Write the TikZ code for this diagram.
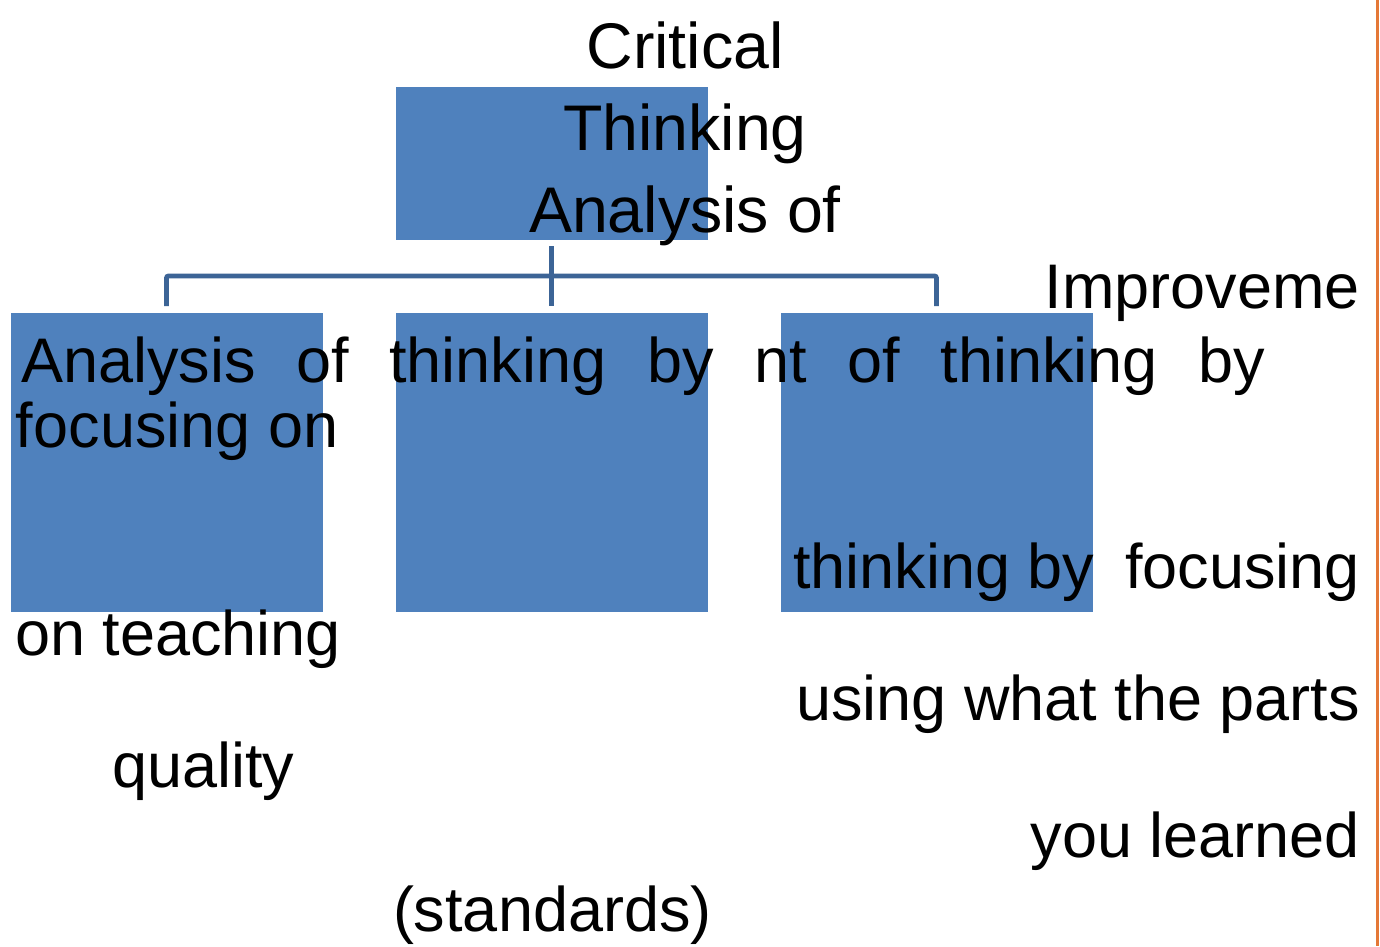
\documentclass[tikz,border=0pt]{standalone}
\usepackage{fontspec}
\setmainfont{Liberation Sans}
\definecolor{boxblue}{HTML}{4F81BD}
\definecolor{connblue}{RGB}{60,100,150}
\definecolor{rulecol}{RGB}{228,120,55}
\begin{document}
\begin{tikzpicture}[x=1pt,y=-1pt,
  blk/.style={fill=boxblue, draw=white, line width=0.6pt, inner sep=0pt, outer sep=0pt, minimum width=313pt, anchor=north west},
  conn/.style={draw=connblue, line width=4.8pt, rounded corners=2pt},
  big/.style={inner sep=0pt, outer sep=0pt, font=\fontsize{64.5}{82}\selectfont},
  txt/.style={inner sep=0pt, outer sep=0pt, font=\fontsize{63}{75}\selectfont}]
\useasboundingbox (0,0) rectangle (1380,946);
\fill[white] (0,0) rectangle (1380,946);
% boxes
\node[blk, minimum height=154pt] (top) at (395,86) {};
\node[blk, minimum height=300pt] (lft) at (10,312) {};
\node[blk, minimum height=300pt] (mid) at (395,312) {};
\node[blk, minimum height=300pt] (rgt) at (780,312) {};
% connectors
\coordinate (bar) at (551,276);
\draw[conn] ([yshift=-6pt]top.south) -- ([yshift=6pt]mid.north);
\draw[conn] ([yshift=6pt]lft.north) |- (bar) -| ([yshift=6pt]rgt.north);
% right rule
\draw[rulecol, line width=3pt] (1377,0) -- (1377,946);
% texts
\node[big, anchor=base] (t1) at (685,68) {Critical};
\node[big, anchor=base] (t2) at (685,150) {Thinking};
\node[big, anchor=base] (t3) at (685,232) {Analysis of};
\node[txt, anchor=base east] (r1) at (1360,308) {Improveme};
\node[txt, anchor=base west] (l1) at (21,382) {\makebox[1244pt][s]{Analysis of thinking by nt of thinking by}};
\node[txt, anchor=base west] (l2) at (16,447) {focusing on};
\node[txt, anchor=base west] (r2a) at (793,588) {thinking by};
\node[txt, anchor=base east] (r2b) at (1360,588) {focusing};
\node[txt, anchor=base west] (l3) at (15,655) {on teaching};
\node[txt, anchor=base east] (r3) at (1360,720) {using what the parts};
\node[txt, anchor=base west] (l4) at (112,787) {quality};
\node[txt, anchor=base east] (r4) at (1360,857) {you learned};
\node[txt, anchor=base west] (l5) at (393,931) {(standards)};
\end{tikzpicture}
\end{document}
